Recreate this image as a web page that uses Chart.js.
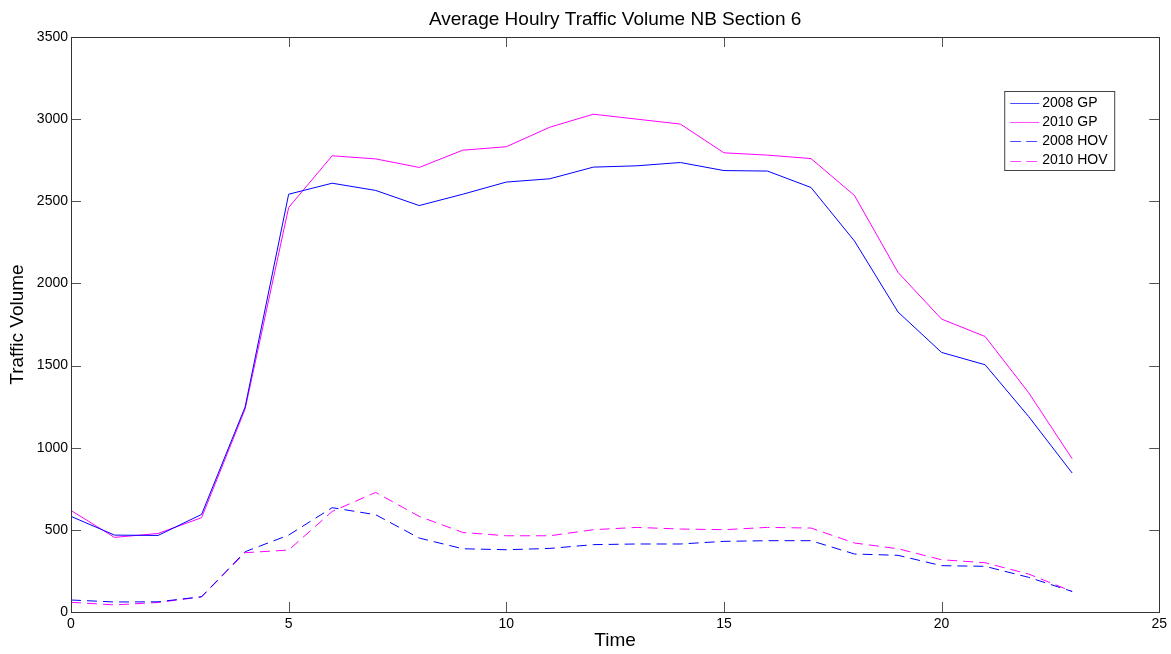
<!DOCTYPE html>
<html>
<head>
<meta charset="utf-8">
<script src="https://cdn.jsdelivr.net/npm/chart.js@4.4.1/dist/chart.umd.min.js"></script>
<style>
  html, body { margin: 0; padding: 0; background: #ffffff; }
  canvas { display: block; }
</style>
</head>
<body>
<canvas id="c" width="1171" height="654"></canvas>
<script>
const hours = [0,1,2,3,4,5,6,7,8,9,10,11,12,13,14,15,16,17,18,19,20,21,22,23];
const gp2008 = [582,468,466,594,1248,2543,2610,2566,2474,2543,2617,2637,2708,2716,2736,2687,2684,2584,2258,1826,1580,1505,1190,846];
const gp2010 = [618,454,478,574,1235,2462,2777,2758,2706,2811,2832,2951,3030,3000,2970,2795,2781,2760,2535,2067,1783,1677,1335,933];
const hov2008 = [73,61,62,93,367,468,635,592,450,385,379,387,410,414,414,430,434,434,353,345,282,278,211,125];
const hov2010 = [59,43,58,92,361,377,612,728,582,484,464,464,501,515,505,501,515,511,420,385,318,300,231,125];
const seriesLabels = ['2008 GP','2010 GP','2008 HOV','2010 HOV'];
const xTicks = [0,5,10,15,20,25];
const yTicks = [0,500,1000,1500,2000,2500,3000,3500];

const FONT = '"Liberation Sans", Arial, sans-serif';
const pts = arr => hours.map((h,i) => ({x:h, y:arr[i]}));

const frame = {
  id: 'frame',
  afterDraw(chart) {
    const {ctx, chartArea:a, scales:{x, y}} = chart;
    ctx.save();
    ctx.lineWidth = 1;
    ctx.strokeStyle = '#555555';
    ctx.beginPath();
    const L = 10;
    xTicks.forEach(v => {
      const px = Math.round(x.getPixelForValue(v)) + 0.5;
      ctx.moveTo(px, a.bottom); ctx.lineTo(px, a.bottom - L);
      ctx.moveTo(px, a.top); ctx.lineTo(px, a.top + L);
    });
    yTicks.forEach(v => {
      const py = Math.round(y.getPixelForValue(v)) + 0.5;
      ctx.moveTo(a.left, py); ctx.lineTo(a.left + L, py);
      ctx.moveTo(a.right, py); ctx.lineTo(a.right - L, py);
    });
    ctx.stroke();
    ctx.strokeStyle = '#333333';
    ctx.strokeRect(Math.round(a.left)+0.5, Math.round(a.top)+0.5, Math.round(a.right-a.left), Math.round(a.bottom-a.top));

    // legend box
    const bx = a.right - 155, by = a.top + 54, bw = 110, bh = 79;
    ctx.fillStyle = '#ffffff';
    ctx.fillRect(bx, by, bw, bh);
    ctx.strokeStyle = '#444444';
    ctx.strokeRect(bx + 0.5, by + 0.5, bw, bh);
    ctx.font = '14px ' + FONT;
    ctx.textBaseline = 'middle';
    ctx.textAlign = 'left';
    chart.data.datasets.forEach((ds, i) => {
      const ry = by + 12 + i * 19.2;
      ctx.strokeStyle = ds.borderColor;
      ctx.globalAlpha = 0.7;
      ctx.setLineDash(ds.borderDash ? [11, 5] : []);
      ctx.beginPath();
      ctx.moveTo(bx + 6, Math.round(ry) + 0.5);
      ctx.lineTo(bx + 35, Math.round(ry) + 0.5);
      ctx.stroke();
      ctx.setLineDash([]);
      ctx.globalAlpha = 1;
      ctx.fillStyle = '#000000';
      ctx.fillText(ds.label, bx + 38, ry);
    });
    ctx.restore();
  }
};

new Chart(document.getElementById('c'), {
  type: 'line',
  data: {
    datasets: [
      {label: seriesLabels[0], data: pts(gp2008), borderColor: '#0000ff', borderWidth: 1, pointRadius: 0, tension: 0, fill: false},
      {label: seriesLabels[1], data: pts(gp2010), borderColor: '#ff00ff', borderWidth: 1, pointRadius: 0, tension: 0, fill: false},
      {label: seriesLabels[2], data: pts(hov2008), borderColor: '#0000ff', borderWidth: 1, borderDash: [10,6], pointRadius: 0, tension: 0, fill: false},
      {label: seriesLabels[3], data: pts(hov2010), borderColor: '#ff00ff', borderWidth: 1, borderDash: [10,6], pointRadius: 0, tension: 0, fill: false}
    ]
  },
  options: {
    responsive: false,
    animation: false,
    devicePixelRatio: 1,
    layout: { padding: { left: 0, right: 10, top: 0, bottom: 0 } },
    plugins: {
      legend: { display: false },
      tooltip: { enabled: false },
      title: {
        display: true,
        text: 'Average Houlry Traffic Volume NB Section 6',
        fullSize: false,
        color: '#000000',
        font: { family: FONT, size: 19, weight: 'normal', lineHeight: 1.2 },
        padding: { top: 8.6, bottom: 5.6 }
      }
    },
    scales: {
      x: {
        type: 'linear', min: 0, max: 25,
        grid: { display: false, drawTicks: false },
        border: { display: false },
        afterBuildTicks: s => { s.ticks = xTicks.map(v => ({value: v})); },
        afterFit: s => { s.height = 42; },
        ticks: { color: '#000000', font: { family: FONT, size: 14 }, padding: 4, maxRotation: 0, autoSkip: false, callback: v => String(v) },
        title: { display: true, text: 'Time', color: '#000000', font: { family: FONT, size: 19, lineHeight: 1.2 }, padding: { top: 0, bottom: 2 } }
      },
      y: {
        type: 'linear', min: 0, max: 3500,
        grid: { display: false, drawTicks: false },
        border: { display: false },
        afterBuildTicks: s => { s.ticks = yTicks.map(v => ({value: v})); },
        afterFit: s => { s.width = 71; },
        ticks: { color: '#000000', font: { family: FONT, size: 14 }, padding: 3, autoSkip: false, callback: v => String(v) },
        title: { display: true, text: 'Traffic Volume', color: '#000000', font: { family: FONT, size: 19, lineHeight: 1.2 }, padding: { top: 6, bottom: 0 } }
      }
    }
  },
  plugins: [frame]
});
</script>
</body>
</html>
